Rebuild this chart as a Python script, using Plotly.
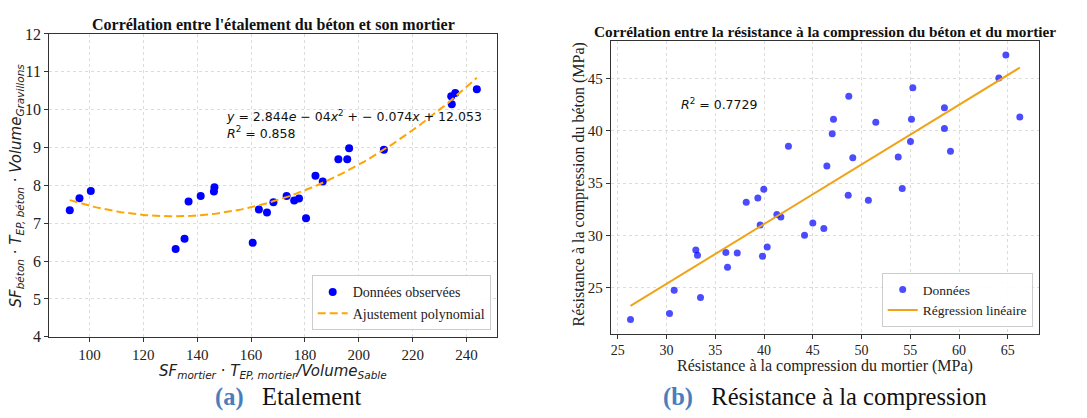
import numpy as np
import plotly.graph_objects as go

# ---------------- data: left chart (étalement) ----------------
etal_x = [92.7, 96.3, 100.5, 132.0, 135.3, 136.8, 141.3, 146.2, 146.4, 160.6,
          162.9, 165.9, 168.3, 173.2, 176.0, 177.8, 180.4, 183.9, 186.6, 192.4,
          195.7, 196.4, 209.3, 234.3, 234.5, 235.8, 243.8]
etal_y = [7.34, 7.66, 7.85, 6.32, 6.59, 7.57, 7.72, 7.84, 7.95, 6.48,
          7.36, 7.28, 7.55, 7.72, 7.60, 7.65, 7.13, 8.25, 8.10, 8.69,
          8.69, 8.98, 8.94, 10.35, 10.14, 10.44, 10.54]

# ---------------- data: right chart (résistance) ----------------
rc_mortier = [26.3, 30.3, 30.78, 33.0, 33.17, 33.48, 36.08, 36.25, 37.25, 38.17,
              39.36, 39.6, 39.84, 39.97, 40.32, 41.31, 41.72, 42.5, 44.15, 45.0,
              46.13, 46.44, 46.99, 47.12, 48.63, 48.69, 49.1, 50.7, 51.46, 53.76,
              54.17, 55.02, 55.12, 55.26, 58.5, 58.5, 59.12, 64.08, 64.8, 66.23]
rc_beton = [21.94, 22.52, 24.73, 28.6, 28.08, 24.05, 28.36, 26.93, 28.3, 33.17,
            33.56, 30.99, 27.99, 34.41, 28.88, 32.0, 31.75, 38.51, 30.01, 31.17,
            30.65, 36.62, 39.71, 41.11, 33.83, 43.31, 37.41, 33.35, 40.81, 37.5,
            34.48, 38.97, 41.11, 44.11, 42.21, 40.23, 38.03, 45.06, 47.26, 41.33]

left_xticks = [100, 120, 140, 160, 180, 200, 220, 240]
left_yticks = [4, 5, 6, 7, 8, 9, 10, 11, 12]
right_xticks = [25, 30, 35, 40, 45, 50, 55, 60, 65]
right_yticks = [25, 30, 35, 40, 45]

W, H = 1087, 418
SERIF = "Liberation Serif"
SANS = "DejaVu Sans"


def px(x):
    return x / W


def py(y):
    return 1 - y / H


# fits
c2 = np.polyfit(etal_x, etal_y, 2)
fit_x = np.linspace(min(etal_x), max(etal_x), 200)
fit_y = np.polyval(c2, fit_x)

c1 = np.polyfit(rc_mortier, rc_beton, 1)
reg_x = np.array([min(rc_mortier), max(rc_mortier)])
reg_y = np.polyval(c1, reg_x)

fig = go.Figure()
fig.add_trace(go.Scatter(x=etal_x, y=etal_y, mode="markers", name="Données observées",
                         marker=dict(color="#0000ff", size=8), xaxis="x", yaxis="y",
                         legend="legend"))
fig.add_trace(go.Scatter(x=fit_x, y=fit_y, mode="lines", name="Ajustement polynomial",
                         line=dict(color="#ffa500", width=2, dash="8px,4px"),
                         xaxis="x", yaxis="y", legend="legend"))
fig.add_trace(go.Scatter(x=rc_mortier, y=rc_beton, mode="markers", name="Données",
                         marker=dict(color="rgba(0,0,255,0.7)", size=7),
                         xaxis="x2", yaxis="y2", legend="legend2"))
fig.add_trace(go.Scatter(x=reg_x, y=reg_y, mode="lines", name="Régression linéaire",
                         line=dict(color="#f0a318", width=2),
                         xaxis="x2", yaxis="y2", legend="legend2"))

axis_common = dict(showline=True, mirror=True, linecolor="#333333", linewidth=1.3,
                   ticks="outside", ticklen=4, tickcolor="#333333",
                   showgrid=True, gridcolor="#dcdcdc", griddash="dot", gridwidth=1,
                   zeroline=False)

fig.update_layout(
    width=W, height=H,
    margin=dict(l=0, r=0, t=0, b=0),
    paper_bgcolor="white", plot_bgcolor="white",
    xaxis=dict(domain=[px(49.3), px(497.3)], anchor="y", range=[85.1, 251.4],
               tickvals=left_xticks, tickfont=dict(family=SERIF, size=15, color="#222"),
               **axis_common),
    yaxis=dict(domain=[py(342.7), py(27)], anchor="x", range=[4, 12],
               tickvals=left_yticks, tickfont=dict(family=SERIF, size=16, color="#222"),
               **axis_common),
    xaxis2=dict(domain=[px(611), px(1039)], anchor="y2", range=[24.3, 68.2],
                tickvals=right_xticks, tickfont=dict(family=SERIF, size=14, color="#222"),
                **axis_common),
    yaxis2=dict(domain=[py(339.3), py(34.3)], anchor="x2", range=[20.6, 48.6],
                tickvals=right_yticks, tickfont=dict(family=SERIF, size=15, color="#222"),
                **axis_common),
    showlegend=True,
    legend=dict(x=px(490.7), y=py(336), xanchor="right", yanchor="bottom",
                bgcolor="rgba(255,255,255,0.9)", bordercolor="#cccccc", borderwidth=1,
                font=dict(family=SERIF, size=14, color="#222"), itemwidth=30,
                tracegroupgap=0),
    legend2=dict(x=px(1032.7), y=py(332.7), xanchor="right", yanchor="bottom",
                 bgcolor="rgba(255,255,255,0.9)", bordercolor="#cccccc", borderwidth=1,
                 font=dict(family=SERIF, size=13.5, color="#222"), itemwidth=30,
                 tracegroupgap=0),
)

ann = []
# titles
ann.append(dict(text="<b>Corrélation entre l'étalement du béton et son mortier</b>",
                x=px(273.3), y=py(17), xref="paper", yref="paper", showarrow=False,
                xanchor="center", yanchor="middle",
                font=dict(family=SERIF, size=16, color="#111")))
ann.append(dict(text="<b>Corrélation entre la résistance à la compression du béton et du mortier</b>",
                x=px(825), y=py(24), xref="paper", yref="paper", showarrow=False,
                xanchor="center", yanchor="middle",
                font=dict(family=SERIF, size=15.3, color="#111")))
# axis titles left
ann.append(dict(text="<i>SF</i><sub><i>mortier</i></sub> · <i>T</i><sub><i>EP, mortier</i></sub><i>/Volume</i><sub><i>Sable</i></sub>",
                x=px(273), y=py(379), xref="paper", yref="paper", showarrow=False,
                xanchor="center", yanchor="middle",
                font=dict(family=SANS, size=15, color="#222")))
ann.append(dict(text="<i>SF</i><sub><i>béton</i></sub> · <i>T</i><sub><i>EP, béton</i></sub> · <i>Volume</i><sub><i>Gravillons</i></sub>",
                x=px(16), y=py(185), xref="paper", yref="paper", showarrow=False,
                xanchor="center", yanchor="middle", textangle=-90,
                font=dict(family=SANS, size=15, color="#222")))
# axis titles right
ann.append(dict(text="Résistance à la compression du mortier (MPa)",
                x=px(825), y=py(373), xref="paper", yref="paper", showarrow=False,
                xanchor="center", yanchor="middle",
                font=dict(family=SERIF, size=16, color="#222")))
ann.append(dict(text="Résistance à la compression du béton (MPa)",
                x=px(579), y=py(184), xref="paper", yref="paper", showarrow=False,
                xanchor="center", yanchor="middle", textangle=-90,
                font=dict(family=SERIF, size=16, color="#222")))
# equation annotations
ann.append(dict(text="<i>y</i> = 2.844<i>e</i> − 04<i>x</i><sup>2</sup> + − 0.074<i>x</i> + 12.053<br><i>R</i><sup>2</sup> = 0.858",
                x=150.0, y=9.62, xref="x", yref="y", showarrow=False,
                xanchor="left", yanchor="middle", align="left",
                font=dict(family=SANS, size=12.5, color="#111")))
ann.append(dict(text="<i>R</i><sup>2</sup> = 0.7729",
                x=31.26, y=42.6, xref="x2", yref="y2", showarrow=False,
                xanchor="left", yanchor="middle",
                font=dict(family=SANS, size=12.5, color="#111")))
# captions
ann.append(dict(text="<b><span style='color:#4a7ebb'>(a)</span></b>&nbsp;&nbsp;&nbsp;Etalement",
                x=px(288), y=py(405), xref="paper", yref="paper", showarrow=False,
                xanchor="center", yanchor="middle",
                font=dict(family=SERIF, size=24.5, color="#111")))
ann.append(dict(text="<b><span style='color:#4a7ebb'>(b)</span></b>&nbsp;&nbsp;&nbsp;Résistance à la compression",
                x=px(825), y=py(405), xref="paper", yref="paper", showarrow=False,
                xanchor="center", yanchor="middle",
                font=dict(family=SERIF, size=24.5, color="#111")))

fig.update_layout(annotations=ann)
fig.write_html("out.html")
